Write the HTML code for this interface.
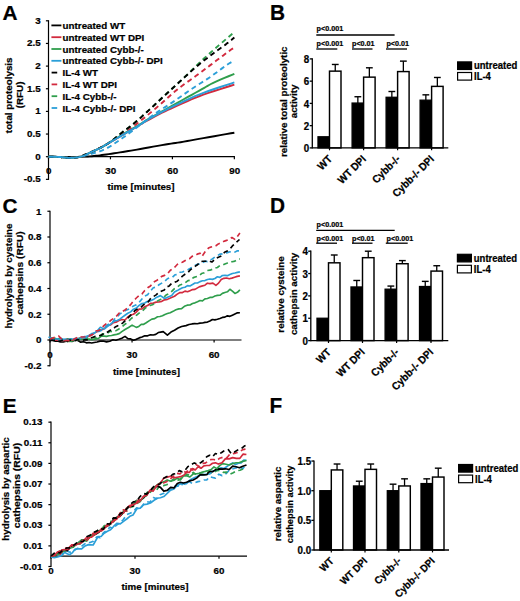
<!DOCTYPE html>
<html><head><meta charset="utf-8"><style>
html,body{margin:0;padding:0;background:#fff;}
body{width:520px;height:601px;overflow:hidden;}
svg{display:block;}
text{font-family:"Liberation Sans",sans-serif;font-weight:bold;fill:#000;stroke:#000;stroke-width:0.22px;}
</style></head><body>
<svg width="520" height="601" viewBox="0 0 520 601">
<rect width="520" height="601" fill="#fff"/>
<text x="0" y="0" font-size="20.8" text-anchor="start" transform="translate(2.60 19.80) scale(1 1.0)">A</text>
<line x1="48.50" y1="20.20" x2="48.50" y2="179.95" stroke="#000" stroke-width="1.2"/>
<line x1="45.90" y1="20.80" x2="48.50" y2="20.80" stroke="#000" stroke-width="1.2"/>
<text x="0" y="0" font-size="9.8" text-anchor="end" transform="translate(40.60 23.60) scale(1 1.0)">3</text>
<line x1="45.90" y1="43.45" x2="48.50" y2="43.45" stroke="#000" stroke-width="1.2"/>
<text x="0" y="0" font-size="9.8" text-anchor="end" transform="translate(40.60 46.25) scale(1 1.0)">2.5</text>
<line x1="45.90" y1="66.10" x2="48.50" y2="66.10" stroke="#000" stroke-width="1.2"/>
<text x="0" y="0" font-size="9.8" text-anchor="end" transform="translate(40.60 68.90) scale(1 1.0)">2</text>
<line x1="45.90" y1="88.75" x2="48.50" y2="88.75" stroke="#000" stroke-width="1.2"/>
<text x="0" y="0" font-size="9.8" text-anchor="end" transform="translate(40.60 91.55) scale(1 1.0)">1.5</text>
<line x1="45.90" y1="111.40" x2="48.50" y2="111.40" stroke="#000" stroke-width="1.2"/>
<text x="0" y="0" font-size="9.8" text-anchor="end" transform="translate(40.60 114.20) scale(1 1.0)">1</text>
<line x1="45.90" y1="134.05" x2="48.50" y2="134.05" stroke="#000" stroke-width="1.2"/>
<text x="0" y="0" font-size="9.8" text-anchor="end" transform="translate(40.60 136.85) scale(1 1.0)">0.5</text>
<line x1="45.90" y1="156.70" x2="48.50" y2="156.70" stroke="#000" stroke-width="1.2"/>
<text x="0" y="0" font-size="9.8" text-anchor="end" transform="translate(40.60 159.50) scale(1 1.0)">0</text>
<line x1="45.90" y1="179.35" x2="48.50" y2="179.35" stroke="#000" stroke-width="1.2"/>
<text x="0" y="0" font-size="9.8" text-anchor="end" transform="translate(40.60 182.15) scale(1 1.0)">-0.5</text>
<line x1="48.50" y1="156.70" x2="234.95" y2="156.70" stroke="#000" stroke-width="1.2"/>
<line x1="48.50" y1="156.70" x2="48.50" y2="159.30" stroke="#000" stroke-width="1.2"/>
<text x="0" y="0" font-size="9.8" text-anchor="middle" transform="translate(48.80 174.20) scale(1 1.0)">0</text>
<line x1="110.45" y1="156.70" x2="110.45" y2="159.30" stroke="#000" stroke-width="1.2"/>
<text x="0" y="0" font-size="9.8" text-anchor="middle" transform="translate(110.75 174.20) scale(1 1.0)">30</text>
<line x1="172.40" y1="156.70" x2="172.40" y2="159.30" stroke="#000" stroke-width="1.2"/>
<text x="0" y="0" font-size="9.8" text-anchor="middle" transform="translate(172.70 174.20) scale(1 1.0)">60</text>
<line x1="234.35" y1="156.70" x2="234.35" y2="159.30" stroke="#000" stroke-width="1.2"/>
<text x="0" y="0" font-size="9.8" text-anchor="middle" transform="translate(234.65 174.20) scale(1 1.0)">90</text>
<text x="0" y="0" font-size="9.8" text-anchor="start" transform="translate(107.60 189.90) scale(1 1.0)">time [minutes]</text>
<text x="0" y="0" font-size="9.8" text-anchor="middle" transform="translate(12.40 95.30) rotate(-90) scale(1 1.0)">total proteolysis</text>
<text x="0" y="0" font-size="9.8" text-anchor="middle" transform="translate(22.80 94.90) rotate(-90) scale(1 1.0)">(RFU)</text>
<path d="M48.50,156.70 L50.84,156.73 L54.16,156.78 L58.05,156.83 L62.11,156.88 L65.95,156.91 L69.15,156.93 L71.69,156.92 L73.89,156.90 L75.86,156.87 L77.72,156.83 L79.57,156.77 L81.54,156.70 L83.60,156.62 L85.67,156.54 L87.73,156.45 L89.80,156.33 L91.87,156.19 L93.93,156.02 L95.95,155.82 L97.91,155.59 L99.87,155.34 L101.88,155.06 L104.02,154.76 L106.32,154.44 L108.82,154.08 L111.48,153.69 L114.26,153.27 L117.10,152.84 L119.98,152.40 L122.84,151.94 L125.62,151.50 L128.33,151.05 L131.07,150.60 L133.94,150.11 L137.01,149.59 L140.39,149.00 L144.27,148.31 L148.60,147.52 L153.14,146.69 L157.65,145.87 L161.88,145.11 L165.59,144.47 L168.60,143.98 L171.08,143.61 L173.28,143.31 L175.44,143.01 L177.82,142.66 L180.66,142.20 L183.91,141.65 L187.36,141.03 L191.02,140.36 L194.91,139.65 L199.02,138.91 L203.38,138.13 L208.42,137.24 L214.24,136.21 L220.28,135.15 L226.01,134.15 L230.88,133.30 L234.35,132.69" fill="none" stroke="#000" stroke-width="1.9" stroke-linejoin="round"/>
<path d="M48.50,156.70 L49.62,156.72 L51.18,156.73 L53.02,156.76 L55.00,156.79 L56.98,156.85 L58.83,156.93 L60.56,157.06 L62.30,157.24 L64.04,157.44 L65.77,157.62 L67.48,157.77 L69.15,157.83 L70.82,157.82 L72.51,157.77 L74.17,157.66 L75.77,157.52 L77.28,157.35 L78.65,157.15 L79.85,156.93 L80.89,156.68 L81.84,156.40 L82.74,156.09 L83.66,155.73 L84.64,155.34 L85.65,154.90 L86.64,154.42 L87.64,153.90 L88.69,153.34 L89.81,152.77 L91.04,152.17 L92.43,151.54 L93.98,150.86 L95.59,150.16 L97.21,149.45 L98.75,148.76 L100.12,148.09 L101.22,147.53 L102.06,147.05 L102.82,146.59 L103.67,146.06 L104.78,145.38 L106.32,144.47 L108.33,143.29 L110.68,141.92 L113.29,140.39 L116.07,138.76 L118.94,137.09 L121.81,135.41 L124.87,133.62 L128.23,131.65 L131.68,129.63 L135.00,127.69 L137.98,125.95 L140.39,124.54 L142.03,123.57 L143.03,122.96 L143.68,122.56 L144.29,122.19 L145.16,121.70 L146.59,120.91 L148.60,119.82 L150.95,118.55 L153.56,117.15 L156.34,115.68 L159.21,114.20 L162.07,112.76 L164.95,111.36 L167.89,109.96 L170.92,108.54 L174.04,107.10 L177.29,105.64 L180.66,104.15 L184.11,102.62 L187.62,101.06 L191.24,99.48 L195.04,97.88 L199.06,96.26 L203.38,94.64 L208.42,92.89 L214.24,90.98 L220.28,89.06 L226.01,87.27 L230.88,85.76 L234.35,84.67" fill="none" stroke="#d22a3e" stroke-width="1.9" stroke-linejoin="round"/>
<path d="M48.50,156.70 L49.62,156.72 L51.18,156.73 L53.02,156.76 L55.00,156.79 L56.98,156.85 L58.83,156.93 L60.56,157.06 L62.30,157.24 L64.04,157.44 L65.77,157.62 L67.48,157.77 L69.15,157.83 L70.82,157.82 L72.51,157.77 L74.17,157.66 L75.77,157.52 L77.28,157.35 L78.65,157.15 L79.85,156.93 L80.89,156.68 L81.84,156.40 L82.74,156.09 L83.66,155.73 L84.64,155.34 L85.65,154.90 L86.64,154.42 L87.64,153.90 L88.69,153.34 L89.81,152.77 L91.04,152.17 L92.43,151.54 L93.98,150.86 L95.59,150.16 L97.21,149.45 L98.75,148.76 L100.12,148.09 L101.22,147.53 L102.06,147.07 L102.82,146.62 L103.67,146.10 L104.78,145.41 L106.32,144.47 L108.33,143.24 L110.68,141.78 L113.29,140.17 L116.07,138.45 L118.94,136.69 L121.81,134.96 L124.87,133.14 L128.23,131.18 L131.68,129.18 L135.00,127.25 L137.98,125.52 L140.39,124.08 L142.03,123.06 L143.03,122.39 L143.68,121.90 L144.29,121.45 L145.16,120.87 L146.59,120.01 L148.60,118.86 L150.95,117.54 L153.56,116.10 L156.34,114.57 L159.21,112.99 L162.07,111.40 L164.96,109.78 L167.94,108.11 L171.01,106.39 L174.15,104.62 L177.37,102.82 L180.66,100.98 L184.16,99.03 L187.92,96.95 L191.75,94.84 L195.47,92.78 L198.93,90.87 L201.93,89.20 L204.28,87.86 L206.09,86.79 L207.62,85.86 L209.15,84.98 L210.95,84.01 L213.29,82.86 L216.48,81.40 L220.37,79.71 L224.53,77.93 L228.53,76.25 L231.95,74.82 L234.35,73.80" fill="none" stroke="#2f9e4c" stroke-width="1.9" stroke-linejoin="round"/>
<path d="M48.50,156.70 L49.62,156.72 L51.18,156.73 L53.02,156.76 L55.00,156.79 L56.98,156.85 L58.83,156.93 L60.56,157.06 L62.30,157.24 L64.04,157.44 L65.77,157.62 L67.48,157.77 L69.15,157.83 L70.81,157.82 L72.47,157.77 L74.11,157.66 L75.70,157.52 L77.22,157.35 L78.65,157.15 L79.95,156.92 L81.13,156.65 L82.24,156.35 L83.33,156.02 L84.46,155.68 L85.67,155.34 L86.93,155.02 L88.18,154.70 L89.46,154.38 L90.82,154.02 L92.30,153.59 L93.93,153.08 L95.72,152.51 L97.64,151.94 L99.67,151.29 L101.81,150.54 L104.03,149.64 L106.32,148.55 L108.76,147.19 L111.37,145.59 L114.06,143.85 L116.76,142.04 L119.37,140.25 L121.81,138.58 L123.99,137.07 L125.98,135.66 L127.87,134.28 L129.80,132.84 L131.87,131.28 L134.20,129.52 L136.79,127.52 L139.55,125.33 L142.46,123.01 L145.48,120.63 L148.59,118.25 L151.75,115.93 L155.02,113.66 L158.44,111.40 L161.95,109.13 L165.48,106.87 L168.98,104.61 L172.40,102.34 L175.75,100.05 L179.09,97.73 L182.40,95.40 L185.67,93.11 L188.88,90.88 L192.02,88.75 L195.06,86.75 L198.02,84.86 L200.92,83.03 L203.80,81.22 L206.67,79.36 L209.57,77.42 L212.61,75.29 L215.80,72.98 L218.99,70.63 L222.04,68.38 L224.79,66.37 L227.12,64.74 L229.01,63.52 L230.56,62.59 L231.83,61.91 L232.86,61.40 L233.68,61.01 L234.35,60.66" fill="none" stroke="#2b9fd8" stroke-width="1.9" stroke-linejoin="round" stroke-dasharray="5,3.6"/>
<path d="M48.50,156.70 L49.62,156.72 L51.18,156.73 L53.02,156.76 L55.00,156.79 L56.98,156.85 L58.83,156.93 L60.56,157.06 L62.30,157.24 L64.04,157.44 L65.77,157.62 L67.48,157.77 L69.15,157.83 L70.81,157.83 L72.47,157.80 L74.11,157.72 L75.70,157.59 L77.22,157.40 L78.65,157.15 L79.95,156.83 L81.13,156.43 L82.24,155.98 L83.33,155.48 L84.46,154.96 L85.67,154.44 L86.91,153.93 L88.12,153.43 L89.36,152.91 L90.70,152.32 L92.20,151.64 L93.93,150.81 L95.94,149.83 L98.19,148.71 L100.60,147.50 L103.09,146.21 L105.58,144.89 L107.97,143.56 L110.23,142.27 L112.42,141.00 L114.61,139.68 L116.85,138.28 L119.23,136.72 L121.81,134.96 L124.63,132.95 L127.65,130.73 L130.80,128.36 L134.02,125.90 L137.24,123.40 L140.39,120.91 L143.48,118.44 L146.56,115.93 L149.65,113.38 L152.74,110.80 L155.84,108.17 L158.98,105.51 L162.16,102.75 L165.39,99.87 L168.64,96.96 L171.88,94.09 L175.07,91.32 L178.18,88.75 L181.20,86.41 L184.16,84.24 L187.06,82.18 L189.94,80.18 L192.83,78.16 L195.73,76.07 L198.66,73.90 L201.59,71.72 L204.51,69.53 L207.44,67.32 L210.36,65.12 L213.29,62.93 L216.37,60.61 L219.66,58.13 L222.94,55.65 L226.03,53.33 L228.73,51.33 L230.84,49.79 L232.28,48.81 L233.18,48.28 L233.69,48.06 L233.96,48.03 L234.13,48.05 L234.35,47.98" fill="none" stroke="#d22a3e" stroke-width="1.9" stroke-linejoin="round" stroke-dasharray="5,3.6"/>
<path d="M48.50,156.70 L49.62,156.72 L51.18,156.73 L53.02,156.76 L55.00,156.79 L56.98,156.85 L58.83,156.93 L60.56,157.06 L62.30,157.24 L64.04,157.44 L65.77,157.62 L67.48,157.77 L69.15,157.83 L70.81,157.83 L72.47,157.80 L74.11,157.72 L75.70,157.59 L77.22,157.40 L78.65,157.15 L79.95,156.83 L81.13,156.43 L82.24,155.98 L83.33,155.48 L84.46,154.96 L85.67,154.44 L86.91,153.93 L88.12,153.43 L89.36,152.91 L90.70,152.32 L92.20,151.64 L93.93,150.81 L95.94,149.85 L98.19,148.80 L100.60,147.64 L103.09,146.38 L105.58,145.02 L107.97,143.56 L110.31,141.94 L112.65,140.16 L114.99,138.27 L117.31,136.35 L119.59,134.47 L121.81,132.69 L123.96,131.04 L126.04,129.47 L128.09,127.93 L130.12,126.40 L132.15,124.83 L134.20,123.18 L136.20,121.51 L138.14,119.86 L140.07,118.17 L142.08,116.38 L144.22,114.45 L146.59,112.31 L149.21,109.90 L152.05,107.27 L155.03,104.49 L158.08,101.64 L161.14,98.78 L164.14,96.00 L167.10,93.27 L170.10,90.55 L173.10,87.82 L176.08,85.09 L179.02,82.38 L181.90,79.69 L184.69,77.02 L187.40,74.37 L190.07,71.73 L192.74,69.10 L195.44,66.47 L198.21,63.84 L201.05,61.19 L203.93,58.55 L206.85,55.91 L209.79,53.27 L212.77,50.62 L215.76,47.98 L219.02,45.15 L222.57,42.11 L226.15,39.06 L229.49,36.24 L232.32,33.85 L234.35,32.12" fill="none" stroke="#2f9e4c" stroke-width="1.9" stroke-linejoin="round" stroke-dasharray="5,3.6"/>
<path d="M48.50,156.70 L49.62,156.72 L51.18,156.73 L53.02,156.76 L55.00,156.79 L56.98,156.85 L58.83,156.93 L60.56,157.06 L62.30,157.24 L64.04,157.44 L65.77,157.62 L67.48,157.77 L69.15,157.83 L70.81,157.83 L72.47,157.80 L74.11,157.72 L75.70,157.59 L77.22,157.40 L78.65,157.15 L79.95,156.83 L81.13,156.43 L82.24,155.98 L83.33,155.48 L84.46,154.96 L85.67,154.44 L86.91,153.93 L88.12,153.43 L89.36,152.91 L90.70,152.32 L92.20,151.64 L93.93,150.81 L95.94,149.85 L98.19,148.80 L100.60,147.64 L103.09,146.38 L105.58,145.02 L107.97,143.56 L110.31,141.94 L112.65,140.16 L114.99,138.27 L117.31,136.35 L119.59,134.47 L121.81,132.69 L123.96,131.04 L126.04,129.47 L128.09,127.93 L130.12,126.40 L132.15,124.83 L134.20,123.18 L136.20,121.51 L138.14,119.86 L140.07,118.17 L142.08,116.38 L144.22,114.45 L146.59,112.31 L149.21,109.90 L152.05,107.27 L155.03,104.49 L158.08,101.64 L161.14,98.78 L164.14,96.00 L167.10,93.26 L170.10,90.49 L173.10,87.73 L176.08,84.99 L179.02,82.30 L181.90,79.69 L184.69,77.16 L187.40,74.69 L190.07,72.27 L192.74,69.89 L195.44,67.54 L198.21,65.19 L201.15,62.80 L204.25,60.36 L207.38,57.95 L210.42,55.63 L213.26,53.49 L215.76,51.60 L217.90,50.02 L219.75,48.70 L221.39,47.56 L222.91,46.50 L224.38,45.46 L225.88,44.36 L227.49,43.12 L229.14,41.81 L230.75,40.51 L232.22,39.31 L233.45,38.30 L234.35,37.56" fill="none" stroke="#000" stroke-width="1.9" stroke-linejoin="round" stroke-dasharray="5,3.6"/>
<path d="M48.50,156.70 L49.62,156.72 L51.18,156.73 L53.02,156.76 L55.00,156.79 L56.98,156.85 L58.83,156.93 L60.56,157.06 L62.30,157.24 L64.04,157.44 L65.77,157.62 L67.48,157.77 L69.15,157.83 L70.82,157.82 L72.51,157.77 L74.17,157.66 L75.77,157.52 L77.28,157.35 L78.65,157.15 L79.85,156.93 L80.89,156.68 L81.84,156.40 L82.74,156.09 L83.66,155.73 L84.64,155.34 L85.65,154.90 L86.64,154.42 L87.64,153.90 L88.69,153.34 L89.81,152.77 L91.04,152.17 L92.43,151.54 L93.98,150.86 L95.59,150.16 L97.21,149.45 L98.75,148.76 L100.12,148.09 L101.22,147.53 L102.06,147.05 L102.82,146.59 L103.67,146.06 L104.78,145.38 L106.32,144.47 L108.33,143.29 L110.68,141.92 L113.29,140.39 L116.07,138.76 L118.94,137.09 L121.81,135.41 L124.87,133.62 L128.23,131.67 L131.68,129.66 L135.00,127.72 L137.98,125.98 L140.39,124.54 L142.03,123.52 L143.03,122.84 L143.68,122.36 L144.29,121.90 L145.16,121.32 L146.59,120.46 L148.60,119.29 L150.95,117.94 L153.56,116.47 L156.34,114.92 L159.21,113.37 L162.07,111.85 L164.95,110.38 L167.89,108.90 L170.92,107.41 L174.04,105.90 L177.29,104.36 L180.66,102.79 L184.11,101.19 L187.62,99.55 L191.24,97.89 L195.04,96.22 L199.06,94.52 L203.38,92.83 L208.42,91.00 L214.24,89.00 L220.28,86.99 L226.01,85.13 L230.88,83.55 L234.35,82.41" fill="none" stroke="#2b9fd8" stroke-width="1.9" stroke-linejoin="round"/>
<line x1="51.40" y1="25.40" x2="61.40" y2="25.40" stroke="#000" stroke-width="1.8"/>
<text x="0" y="0" font-size="9.8" text-anchor="start" transform="translate(62.60 28.90) scale(1 1.0)">untreated WT</text>
<line x1="51.40" y1="37.20" x2="61.40" y2="37.20" stroke="#d22a3e" stroke-width="1.8"/>
<text x="0" y="0" font-size="9.8" text-anchor="start" transform="translate(62.60 40.70) scale(1 1.0)">untreated WT DPI</text>
<line x1="51.40" y1="49.00" x2="61.40" y2="49.00" stroke="#2f9e4c" stroke-width="1.8"/>
<text x="0" y="0" font-size="9.8" text-anchor="start" transform="translate(62.60 52.50) scale(1 1.0)">untreated Cybb-/-</text>
<line x1="51.40" y1="60.80" x2="61.40" y2="60.80" stroke="#2b9fd8" stroke-width="1.8"/>
<text x="0" y="0" font-size="9.8" text-anchor="start" transform="translate(62.60 64.30) scale(1 1.0)">untreated Cybb-/- DPI</text>
<line x1="51.60" y1="72.60" x2="57.20" y2="72.60" stroke="#000" stroke-width="1.8"/>
<text x="0" y="0" font-size="9.8" text-anchor="start" transform="translate(62.60 76.10) scale(1 1.0)">IL-4 WT</text>
<line x1="51.60" y1="84.40" x2="57.20" y2="84.40" stroke="#d22a3e" stroke-width="1.8"/>
<text x="0" y="0" font-size="9.8" text-anchor="start" transform="translate(62.60 87.90) scale(1 1.0)">IL-4 WT DPI</text>
<line x1="51.60" y1="96.20" x2="57.20" y2="96.20" stroke="#2f9e4c" stroke-width="1.8"/>
<text x="0" y="0" font-size="9.8" text-anchor="start" transform="translate(62.60 99.70) scale(1 1.0)">IL-4 Cybb-/-</text>
<line x1="51.60" y1="108.00" x2="57.20" y2="108.00" stroke="#2b9fd8" stroke-width="1.8"/>
<text x="0" y="0" font-size="9.8" text-anchor="start" transform="translate(62.60 111.50) scale(1 1.0)">IL-4 Cybb-/- DPI</text>
<text x="0" y="0" font-size="20.8" text-anchor="start" transform="translate(2.40 212.80) scale(1 1.0)">C</text>
<line x1="50.00" y1="210.65" x2="50.00" y2="366.35" stroke="#000" stroke-width="1.2"/>
<line x1="47.40" y1="211.25" x2="50.00" y2="211.25" stroke="#000" stroke-width="1.2"/>
<text x="0" y="0" font-size="9.8" text-anchor="end" transform="translate(41.50 214.55) scale(1 1.0)">1</text>
<line x1="47.40" y1="237.00" x2="50.00" y2="237.00" stroke="#000" stroke-width="1.2"/>
<text x="0" y="0" font-size="9.8" text-anchor="end" transform="translate(41.50 240.30) scale(1 1.0)">0.8</text>
<line x1="47.40" y1="262.75" x2="50.00" y2="262.75" stroke="#000" stroke-width="1.2"/>
<text x="0" y="0" font-size="9.8" text-anchor="end" transform="translate(41.50 266.05) scale(1 1.0)">0.6</text>
<line x1="47.40" y1="288.50" x2="50.00" y2="288.50" stroke="#000" stroke-width="1.2"/>
<text x="0" y="0" font-size="9.8" text-anchor="end" transform="translate(41.50 291.80) scale(1 1.0)">0.4</text>
<line x1="47.40" y1="314.25" x2="50.00" y2="314.25" stroke="#000" stroke-width="1.2"/>
<text x="0" y="0" font-size="9.8" text-anchor="end" transform="translate(41.50 317.55) scale(1 1.0)">0.2</text>
<line x1="47.40" y1="340.00" x2="50.00" y2="340.00" stroke="#000" stroke-width="1.2"/>
<text x="0" y="0" font-size="9.8" text-anchor="end" transform="translate(41.50 343.30) scale(1 1.0)">0</text>
<line x1="47.40" y1="365.75" x2="50.00" y2="365.75" stroke="#000" stroke-width="1.2"/>
<text x="0" y="0" font-size="9.8" text-anchor="end" transform="translate(41.50 369.05) scale(1 1.0)">-0.2</text>
<line x1="50.00" y1="340.00" x2="241.50" y2="340.00" stroke="#000" stroke-width="1.2"/>
<line x1="50.00" y1="340.00" x2="50.00" y2="342.60" stroke="#000" stroke-width="1.2"/>
<text x="0" y="0" font-size="9.8" text-anchor="middle" transform="translate(50.00 357.80) scale(1 1.0)">0</text>
<line x1="132.05" y1="340.00" x2="132.05" y2="342.60" stroke="#000" stroke-width="1.2"/>
<text x="0" y="0" font-size="9.8" text-anchor="middle" transform="translate(132.05 357.80) scale(1 1.0)">30</text>
<line x1="214.10" y1="340.00" x2="214.10" y2="342.60" stroke="#000" stroke-width="1.2"/>
<text x="0" y="0" font-size="9.8" text-anchor="middle" transform="translate(214.10 357.80) scale(1 1.0)">60</text>
<text x="0" y="0" font-size="9.8" text-anchor="start" transform="translate(113.00 374.60) scale(1 1.0)">time [minutes]</text>
<text x="0" y="0" font-size="9.8" text-anchor="middle" transform="translate(11.85 276.00) rotate(-90) scale(1 1.0)">hydrolysis by cysteine</text>
<text x="0" y="0" font-size="9.8" text-anchor="middle" transform="translate(22.60 273.10) rotate(-90) scale(1 1.0)" textLength="83.5" lengthAdjust="spacingAndGlyphs">cathepsins (RFU)</text>
<path d="M50.00,340.50 L52.67,340.41 L55.33,341.24 L58.00,341.29 L60.67,341.83 L63.33,342.03 L66.00,341.30 L69.00,340.72 L72.00,341.54 L75.00,340.11 L77.88,340.52 L80.75,342.19 L83.62,341.80 L86.50,342.84 L89.07,342.50 L91.63,342.99 L94.20,342.44 L97.10,341.97 L100.00,341.09 L103.25,341.04 L106.50,341.89 L109.75,341.27 L113.00,339.80 L115.93,340.25 L118.87,339.31 L121.80,338.18 L125.00,336.35 L127.83,338.62 L130.67,338.92 L133.50,340.25 L136.33,339.34 L139.17,337.91 L142.00,337.07 L144.82,335.71 L147.65,335.83 L150.48,334.74 L153.30,335.00 L155.78,334.36 L158.25,332.56 L160.72,332.07 L163.20,331.65 L167.40,335.04 L170.95,332.05 L174.50,330.20 L178.05,327.93 L181.60,326.51 L186.00,325.62 L189.00,324.56 L192.00,323.94 L194.67,323.60 L197.33,323.78 L200.00,323.09 L202.47,322.99 L204.95,322.37 L207.43,322.09 L209.90,321.07 L212.40,319.51 L214.90,319.88 L217.40,319.29 L219.90,318.45 L222.40,317.41 L224.90,317.14 L227.40,315.84 L229.90,316.33 L232.40,315.17 L234.90,313.96 L237.40,312.85 L239.90,312.80" fill="none" stroke="#000" stroke-width="1.65" stroke-linejoin="round"/>
<path d="M50.00,338.00 L52.50,338.08 L55.00,338.37 L57.50,339.33 L60.00,339.45 L62.50,339.56 L65.00,340.34 L67.50,341.42 L70.00,341.48 L72.50,341.05 L75.00,339.81 L77.50,339.93 L80.00,339.14 L83.25,339.23 L86.50,339.37 L89.25,339.04 L92.00,339.68 L95.40,338.88 L98.80,338.19 L101.80,335.88 L106.50,336.41 L109.00,335.80 L111.50,335.50 L114.00,334.87 L116.60,334.33 L119.20,333.64 L121.80,331.64 L125.00,329.47 L128.55,327.47 L132.10,325.11 L136.30,327.38 L138.78,326.43 L141.25,324.39 L143.72,324.32 L146.20,322.78 L149.02,320.88 L151.85,319.08 L154.68,318.65 L157.50,316.72 L159.97,316.49 L162.45,315.71 L164.93,314.44 L167.40,313.56 L170.24,312.74 L173.08,311.35 L175.92,309.80 L178.76,308.91 L181.60,308.60 L184.40,306.27 L187.20,305.17 L190.00,305.00 L192.50,303.45 L195.00,302.86 L197.50,301.75 L200.00,300.55 L202.47,300.87 L204.95,298.86 L207.43,298.49 L209.90,297.42 L212.40,297.36 L214.90,296.04 L217.40,295.42 L219.90,295.30 L222.40,293.36 L224.90,292.49 L227.40,291.80 L229.90,289.26 L232.40,291.20 L234.90,293.47 L237.40,292.32 L239.90,289.90" fill="none" stroke="#2f9e4c" stroke-width="1.65" stroke-linejoin="round"/>
<path d="M50.00,339.00 L52.50,339.45 L55.00,339.89 L57.50,340.22 L60.00,340.71 L62.50,340.26 L65.00,340.43 L67.50,338.87 L70.00,339.44 L72.50,339.96 L75.00,339.24 L77.50,339.39 L80.00,337.88 L82.67,337.78 L85.33,336.76 L88.00,336.57 L91.00,335.37 L94.00,333.22 L97.00,331.80 L100.00,330.15 L102.67,329.50 L105.33,327.59 L108.00,324.96 L110.67,324.81 L113.33,322.59 L116.00,322.19 L119.00,320.54 L122.00,319.47 L125.00,319.99 L127.82,316.96 L130.64,314.98 L133.46,314.23 L136.28,312.08 L139.10,309.16 L141.94,308.82 L144.78,306.72 L147.62,305.52 L150.46,303.35 L153.30,303.11 L156.12,302.15 L158.94,302.03 L161.76,301.35 L164.58,299.84 L167.40,299.38 L170.95,297.67 L174.50,296.23 L177.25,294.15 L180.00,292.58 L182.50,292.56 L185.00,291.11 L187.50,291.68 L190.00,290.64 L192.50,289.60 L195.00,289.41 L197.50,287.87 L200.00,286.61 L202.47,285.87 L204.95,285.23 L207.43,283.19 L209.90,283.66 L212.90,283.14 L215.90,285.30 L218.57,283.12 L221.23,279.46 L223.90,278.36 L226.57,278.02 L229.23,278.69 L231.90,278.11 L234.57,277.17 L237.23,276.39 L239.90,275.90" fill="none" stroke="#d22a3e" stroke-width="1.65" stroke-linejoin="round"/>
<path d="M48.50,337.00 L51.00,338.14 L53.50,338.85 L56.00,338.98 L58.50,338.67 L61.00,338.30 L63.50,339.41 L66.00,339.15 L68.40,339.48 L70.80,338.72 L73.20,339.21 L75.60,338.28 L78.00,338.98 L80.83,338.10 L83.67,336.83 L86.50,336.26 L89.07,335.42 L91.63,333.58 L94.20,333.09 L97.25,330.84 L100.30,327.32 L104.50,328.99 L107.00,326.85 L109.50,325.15 L112.07,322.80 L114.63,320.88 L117.20,320.48 L119.80,319.12 L122.40,317.18 L125.00,315.25 L127.82,313.30 L130.64,311.88 L133.46,309.21 L136.28,308.14 L139.10,305.44 L141.94,303.54 L144.78,302.99 L147.62,301.24 L150.46,300.87 L153.30,299.56 L156.85,297.17 L160.40,295.63 L164.60,298.52 L168.15,296.94 L171.70,295.46 L174.47,292.01 L177.23,290.61 L180.00,289.06 L182.50,287.71 L185.00,287.29 L187.50,285.62 L190.00,286.01 L192.50,284.57 L195.00,283.04 L197.50,283.04 L200.00,281.60 L202.49,280.79 L204.97,280.62 L207.46,279.45 L209.95,278.94 L212.44,279.36 L214.93,278.47 L217.41,276.75 L219.90,277.34 L222.40,275.50 L224.90,275.38 L227.40,275.67 L229.90,274.59 L232.40,273.46 L234.90,272.95 L237.40,272.35 L239.90,271.90" fill="none" stroke="#2b9fd8" stroke-width="1.65" stroke-linejoin="round"/>
<path d="M50.00,339.00 L52.40,338.92 L54.80,338.84 L57.20,339.84 L59.60,339.12 L62.00,340.06 L64.60,339.69 L67.20,339.09 L69.80,339.71 L72.40,338.86 L75.00,339.39 L77.60,338.61 L80.20,338.45 L82.80,338.78 L85.40,339.22 L88.00,337.90 L90.67,337.56 L93.33,337.70 L96.00,337.72 L99.50,335.62 L103.00,333.83 L106.50,333.76 L110.00,331.27 L113.00,332.07 L116.00,330.66 L118.50,329.18 L121.00,327.89 L124.50,324.69 L128.00,322.01 L131.50,318.24 L135.00,316.13 L137.50,314.47 L140.00,312.30 L142.50,310.83 L145.00,308.30 L147.50,306.80 L150.00,305.53 L152.50,304.79 L155.00,302.88 L158.00,300.70 L161.00,299.14 L164.00,296.93 L166.57,294.71 L169.13,293.54 L171.70,291.42 L174.47,288.62 L177.23,287.09 L180.00,284.94 L182.67,284.17 L185.33,282.60 L188.00,280.56 L190.67,280.33 L193.33,277.62 L196.00,276.77 L198.78,275.91 L201.56,273.54 L204.34,272.68 L207.12,270.56 L209.90,270.17 L212.40,269.32 L214.90,268.02 L217.40,267.50 L219.90,265.60 L222.40,265.21 L224.90,264.05 L227.40,263.03 L229.90,261.83 L232.40,261.69 L234.90,261.11 L237.40,259.61 L239.90,258.90" fill="none" stroke="#2f9e4c" stroke-width="1.65" stroke-linejoin="round" stroke-dasharray="5,3.6"/>
<path d="M50.00,339.50 L52.40,339.16 L54.80,340.44 L57.20,339.20 L59.60,340.23 L62.00,339.34 L64.60,339.50 L67.20,340.60 L69.80,339.24 L72.40,339.83 L75.00,339.43 L77.60,338.93 L80.20,338.49 L82.80,337.51 L85.40,338.03 L88.00,336.34 L90.50,335.32 L93.00,333.73 L95.50,332.88 L98.00,331.85 L100.67,330.81 L103.33,328.14 L106.00,325.88 L109.30,323.61 L112.60,322.29 L115.07,318.30 L117.53,316.69 L120.00,313.80 L122.67,312.66 L125.33,310.54 L128.00,309.51 L130.78,307.50 L133.55,306.04 L136.32,304.74 L139.10,302.53 L141.94,299.01 L144.78,296.06 L147.62,294.65 L150.46,291.10 L153.30,287.81 L156.12,287.17 L158.94,284.75 L161.76,283.15 L164.58,281.55 L167.40,278.76 L169.92,277.63 L172.44,277.22 L174.96,274.80 L177.48,274.56 L180.00,272.26 L182.50,271.95 L185.00,270.72 L187.50,269.87 L190.00,268.45 L192.50,266.91 L195.00,265.42 L197.50,264.34 L200.00,263.95 L202.47,262.92 L204.95,261.21 L207.43,261.55 L209.90,259.91 L212.40,258.97 L214.90,256.95 L217.40,255.74 L219.90,254.12 L222.40,253.92 L224.90,253.08 L227.40,252.60 L229.90,251.80 L232.40,252.28 L234.90,252.13 L237.40,250.73 L239.90,251.00" fill="none" stroke="#2b9fd8" stroke-width="1.65" stroke-linejoin="round" stroke-dasharray="5,3.6"/>
<path d="M50.00,340.00 L52.40,340.14 L54.80,340.20 L57.20,340.02 L59.60,341.39 L62.00,340.21 L64.60,340.90 L67.20,341.44 L69.80,340.03 L72.40,340.69 L75.00,340.69 L77.60,339.57 L80.20,339.91 L82.80,340.23 L85.40,339.62 L88.00,339.86 L90.50,338.08 L93.00,337.33 L95.50,336.25 L98.00,336.01 L100.83,335.44 L103.67,333.68 L106.50,332.74 L109.55,330.56 L112.60,329.59 L115.17,327.03 L117.73,325.80 L120.30,324.88 L122.87,322.93 L125.43,320.41 L128.00,317.84 L131.50,314.38 L135.00,310.54 L137.80,308.75 L140.60,307.70 L143.40,304.82 L145.88,303.79 L148.35,301.66 L150.83,298.21 L153.30,296.61 L156.13,294.89 L158.97,292.24 L161.80,290.98 L164.28,289.98 L166.75,286.93 L169.22,285.93 L171.70,283.39 L174.47,282.43 L177.23,281.23 L180.00,278.42 L182.50,276.11 L185.00,274.23 L187.50,272.96 L190.00,270.13 L192.50,267.99 L195.00,266.39 L197.50,264.82 L200.00,261.77 L203.00,261.24 L206.00,261.12 L208.95,260.75 L211.90,262.03 L215.90,258.38 L218.90,257.07 L221.90,255.63 L224.57,252.22 L227.23,251.05 L229.90,249.17 L232.40,245.94 L234.90,243.63 L239.50,239.50" fill="none" stroke="#000" stroke-width="1.65" stroke-linejoin="round" stroke-dasharray="5,3.6"/>
<path d="M50.00,339.00 L54.00,337.61 L58.80,336.09 L63.40,340.92 L66.70,340.18 L70.00,341.00 L72.93,339.82 L75.87,338.35 L78.80,336.36 L81.90,336.98 L85.00,336.72 L88.00,335.40 L91.00,335.32 L93.60,333.86 L96.20,330.80 L98.80,330.58 L101.37,328.10 L103.93,325.68 L106.50,323.45 L109.07,322.05 L111.63,319.66 L114.20,318.00 L116.73,315.89 L119.27,312.98 L121.80,311.93 L124.90,309.97 L128.00,307.65 L130.78,304.38 L133.55,300.77 L136.32,298.01 L139.10,295.51 L141.94,294.11 L144.78,290.38 L147.62,287.79 L150.46,285.94 L153.30,282.30 L156.12,280.84 L158.94,278.82 L161.76,276.38 L164.58,275.38 L167.40,273.95 L169.92,270.75 L172.44,268.76 L174.96,266.96 L177.48,264.26 L180.00,262.89 L182.40,262.21 L184.80,260.75 L187.20,259.35 L189.60,258.67 L192.00,256.34 L194.67,255.71 L197.33,254.10 L200.00,253.16 L202.00,256.38 L206.00,250.44 L208.47,248.10 L210.95,246.97 L213.43,246.74 L215.90,245.72 L218.40,243.89 L220.90,242.86 L223.40,241.59 L225.90,240.64 L228.90,239.69 L231.90,237.49 L234.90,239.39 L237.40,236.43 L239.90,233.00" fill="none" stroke="#d22a3e" stroke-width="1.65" stroke-linejoin="round" stroke-dasharray="5,3.6"/>
<text x="0" y="0" font-size="20.8" text-anchor="start" transform="translate(2.80 412.80) scale(1 1.0)">E</text>
<line x1="51.00" y1="421.57" x2="51.00" y2="567.11" stroke="#000" stroke-width="1.2"/>
<line x1="48.40" y1="422.17" x2="51.00" y2="422.17" stroke="#000" stroke-width="1.2"/>
<text x="0" y="0" font-size="9.8" text-anchor="end" transform="translate(42.40 425.37) scale(1 1.0)">0.13</text>
<line x1="48.40" y1="442.79" x2="51.00" y2="442.79" stroke="#000" stroke-width="1.2"/>
<text x="0" y="0" font-size="9.8" text-anchor="end" transform="translate(42.40 445.99) scale(1 1.0)">0.11</text>
<line x1="48.40" y1="463.41" x2="51.00" y2="463.41" stroke="#000" stroke-width="1.2"/>
<text x="0" y="0" font-size="9.8" text-anchor="end" transform="translate(42.40 466.61) scale(1 1.0)">0.09</text>
<line x1="48.40" y1="484.03" x2="51.00" y2="484.03" stroke="#000" stroke-width="1.2"/>
<text x="0" y="0" font-size="9.8" text-anchor="end" transform="translate(42.40 487.23) scale(1 1.0)">0.07</text>
<line x1="48.40" y1="504.65" x2="51.00" y2="504.65" stroke="#000" stroke-width="1.2"/>
<text x="0" y="0" font-size="9.8" text-anchor="end" transform="translate(42.40 507.85) scale(1 1.0)">0.05</text>
<line x1="48.40" y1="525.27" x2="51.00" y2="525.27" stroke="#000" stroke-width="1.2"/>
<text x="0" y="0" font-size="9.8" text-anchor="end" transform="translate(42.40 528.47) scale(1 1.0)">0.03</text>
<line x1="48.40" y1="545.89" x2="51.00" y2="545.89" stroke="#000" stroke-width="1.2"/>
<text x="0" y="0" font-size="9.8" text-anchor="end" transform="translate(42.40 549.09) scale(1 1.0)">0.01</text>
<line x1="48.40" y1="566.51" x2="51.00" y2="566.51" stroke="#000" stroke-width="1.2"/>
<text x="0" y="0" font-size="9.8" text-anchor="end" transform="translate(42.40 569.71) scale(1 1.0)">-0.01</text>
<line x1="51.00" y1="556.20" x2="247.00" y2="556.20" stroke="#000" stroke-width="1.2"/>
<line x1="51.00" y1="556.20" x2="51.00" y2="558.80" stroke="#000" stroke-width="1.2"/>
<text x="0" y="0" font-size="9.8" text-anchor="middle" transform="translate(51.00 573.80) scale(1 1.0)">0</text>
<line x1="135.00" y1="556.20" x2="135.00" y2="558.80" stroke="#000" stroke-width="1.2"/>
<text x="0" y="0" font-size="9.8" text-anchor="middle" transform="translate(135.00 573.80) scale(1 1.0)">30</text>
<line x1="219.00" y1="556.20" x2="219.00" y2="558.80" stroke="#000" stroke-width="1.2"/>
<text x="0" y="0" font-size="9.8" text-anchor="middle" transform="translate(219.00 573.80) scale(1 1.0)">60</text>
<text x="0" y="0" font-size="9.8" text-anchor="start" transform="translate(121.60 590.00) scale(1 1.0)">time [minutes]</text>
<text x="0" y="0" font-size="9.8" text-anchor="middle" transform="translate(9.30 489.00) rotate(-90) scale(1 1.0)" textLength="103.5" lengthAdjust="spacingAndGlyphs">hydrolysis by aspartic</text>
<text x="0" y="0" font-size="9.8" text-anchor="middle" transform="translate(20.00 485.60) rotate(-90) scale(1 1.0)" textLength="85.5" lengthAdjust="spacingAndGlyphs">cathepsins (RFU)</text>
<path d="M51.00,556.50 L54.00,554.33 L57.00,555.59 L60.00,554.54 L63.33,552.92 L66.67,550.86 L70.00,552.17 L73.33,551.06 L76.67,548.72 L80.00,547.52 L83.33,544.94 L86.67,542.51 L90.00,542.48 L93.33,541.17 L96.67,536.94 L100.00,537.68 L103.33,532.93 L106.67,530.43 L110.00,527.17 L113.33,528.49 L116.67,524.95 L120.00,523.00 L123.33,519.46 L126.67,514.64 L130.00,513.32 L133.33,511.66 L136.67,507.80 L140.00,508.81 L143.33,504.47 L146.67,501.62 L150.00,502.27 L153.33,497.50 L156.67,498.71 L160.00,494.81 L163.33,493.54 L166.67,491.04 L170.00,489.94 L173.33,487.25 L176.67,485.15 L180.00,486.96 L183.00,483.44 L186.00,484.62 L189.00,481.33 L192.00,483.38 L194.97,482.63 L197.95,481.62 L200.93,481.20 L203.90,480.02 L206.78,479.89 L209.65,476.74 L212.53,477.43 L215.40,478.11 L218.77,474.17 L222.13,475.63 L225.50,474.05 L228.87,470.71 L232.23,469.09 L235.60,468.01 L239.20,466.99 L242.80,468.68 L246.50,464.00" fill="none" stroke="#2b9fd8" stroke-width="1.65" stroke-linejoin="round" stroke-dasharray="5,3.6"/>
<path d="M51.00,556.00 L54.00,556.83 L57.00,552.56 L60.00,551.09 L63.33,553.49 L66.67,548.74 L70.00,546.98 L73.33,547.11 L76.67,543.88 L80.00,544.06 L83.33,539.76 L86.67,541.00 L90.00,536.78 L93.33,535.57 L96.67,534.56 L100.00,531.24 L103.33,529.70 L106.67,526.33 L110.00,521.19 L113.33,521.86 L116.67,518.02 L120.00,514.24 L123.33,511.09 L126.67,511.07 L130.00,507.33 L133.33,506.42 L136.67,503.43 L140.00,501.84 L143.33,497.60 L146.67,495.46 L150.00,492.45 L153.33,489.03 L156.67,489.83 L160.00,485.25 L163.33,485.62 L166.67,484.82 L170.00,482.10 L173.33,479.07 L176.67,480.80 L180.00,479.17 L183.33,476.07 L186.67,474.36 L190.00,475.13 L193.33,472.46 L196.67,475.37 L200.00,473.03 L203.33,472.74 L206.67,471.97 L210.00,472.64 L213.33,473.33 L216.67,470.56 L220.00,470.50 L223.27,472.33 L226.53,472.19 L229.80,474.38 L233.20,472.71 L236.60,470.80 L240.00,470.29 L243.20,469.01 L246.40,468.20" fill="none" stroke="#2f9e4c" stroke-width="1.65" stroke-linejoin="round" stroke-dasharray="5,3.6"/>
<path d="M51.00,557.00 L54.30,557.73 L57.60,557.01 L62.00,555.41 L64.60,552.25 L67.20,553.83 L69.50,554.73 L72.20,552.91 L74.90,549.27 L78.30,548.74 L81.70,548.90 L85.05,545.95 L88.40,544.64 L93.20,544.99 L98.00,536.51 L101.10,536.51 L104.20,533.22 L107.40,531.28 L110.60,529.81 L113.80,526.19 L117.03,523.21 L120.27,523.92 L123.50,521.32 L126.67,519.00 L129.83,516.30 L133.00,514.99 L136.90,508.71 L140.25,508.14 L143.60,504.73 L147.00,504.11 L150.40,503.08 L153.75,500.48 L157.10,498.31 L160.45,497.71 L163.80,496.58 L167.20,493.43 L170.60,490.21 L173.95,488.86 L177.30,485.16 L180.37,483.91 L183.43,483.20 L186.50,483.74 L189.87,480.07 L193.23,478.34 L196.60,476.85 L199.97,475.21 L203.33,474.63 L206.70,474.26 L209.60,474.05 L212.50,471.19 L215.40,470.23 L218.30,468.84 L221.18,467.82 L224.05,468.45 L226.93,466.55 L229.80,464.43 L232.70,462.92 L235.60,464.39 L238.50,463.15 L241.13,462.88 L243.77,460.06 L246.40,460.30" fill="none" stroke="#2b9fd8" stroke-width="1.65" stroke-linejoin="round"/>
<path d="M51.00,556.00 L54.30,555.26 L57.60,554.22 L62.40,549.86 L67.20,550.79 L72.00,545.20 L76.80,544.22 L81.70,540.13 L86.50,540.23 L91.30,535.34 L96.10,534.04 L98.80,532.01 L101.50,530.06 L104.20,526.79 L107.40,525.98 L110.60,524.09 L113.80,518.62 L117.03,517.23 L120.27,515.98 L123.50,512.36 L126.67,508.97 L129.83,506.13 L133.00,506.13 L136.50,500.51 L140.00,500.44 L143.50,497.99 L147.00,492.77 L150.00,491.13 L153.00,488.80 L157.10,486.15 L160.45,487.37 L163.80,491.12 L167.20,490.38 L170.60,487.34 L173.95,487.92 L177.30,483.45 L180.37,482.28 L183.43,483.06 L186.50,482.28 L189.87,480.88 L193.23,480.04 L196.60,478.10 L200.25,474.56 L203.90,474.87 L206.78,474.80 L209.65,471.09 L212.53,471.80 L215.40,469.86 L218.77,468.85 L222.13,469.09 L225.50,468.81 L229.10,469.56 L232.70,466.17 L236.07,466.79 L239.43,467.82 L242.80,466.25 L246.50,465.00" fill="none" stroke="#000" stroke-width="1.65" stroke-linejoin="round"/>
<path d="M51.00,556.00 L54.30,554.06 L57.60,554.54 L62.40,552.24 L67.20,547.97 L72.00,547.64 L76.80,544.09 L81.70,539.95 L86.50,540.93 L91.30,535.72 L96.10,532.60 L98.80,530.93 L101.50,529.42 L104.20,525.65 L107.40,525.34 L110.60,523.53 L113.80,520.04 L117.03,518.23 L120.27,514.78 L123.50,512.67 L126.67,508.02 L129.83,506.32 L133.00,504.39 L136.50,500.57 L140.00,501.20 L143.50,497.24 L147.00,492.55 L150.00,492.05 L153.00,489.19 L157.10,484.88 L160.45,482.78 L163.80,481.86 L167.20,479.95 L170.60,481.23 L173.95,480.30 L177.30,478.16 L180.37,479.95 L183.43,476.05 L186.50,475.62 L189.87,477.01 L193.23,473.93 L196.60,473.73 L199.50,473.33 L202.40,472.01 L205.30,471.34 L208.20,470.50 L211.10,469.54 L213.97,466.93 L216.85,468.59 L219.72,465.59 L222.60,463.67 L225.97,464.24 L229.33,464.97 L232.70,463.56 L236.07,462.71 L239.43,462.55 L242.80,461.39 L246.50,460.50" fill="none" stroke="#2f9e4c" stroke-width="1.65" stroke-linejoin="round"/>
<path d="M51.00,556.00 L54.30,555.39 L57.60,551.93 L62.40,549.94 L67.20,549.36 L72.00,544.70 L76.80,544.59 L81.70,542.55 L86.50,537.65 L91.30,537.26 L96.10,533.31 L98.80,531.69 L101.50,530.73 L104.20,528.75 L107.40,524.34 L110.60,523.57 L113.80,521.03 L117.03,518.86 L120.27,512.64 L123.50,513.08 L126.67,508.17 L129.83,505.50 L133.00,504.85 L136.50,503.22 L140.00,501.14 L143.50,496.26 L147.00,495.18 L150.00,490.06 L153.00,491.19 L157.10,485.26 L160.45,482.91 L163.80,478.15 L167.20,477.11 L170.60,476.23 L173.95,477.86 L177.30,477.22 L180.50,476.64 L183.70,475.26 L186.57,472.26 L189.43,472.32 L192.30,468.52 L195.20,470.00 L198.10,466.77 L201.00,468.28 L203.87,465.82 L206.73,465.51 L209.60,465.37 L212.50,463.25 L215.40,462.84 L218.30,464.06 L221.90,462.87 L225.50,458.66 L229.10,458.86 L232.70,457.63 L236.30,458.36 L239.90,458.37 L243.15,454.08 L246.40,454.50" fill="none" stroke="#d22a3e" stroke-width="1.65" stroke-linejoin="round"/>
<path d="M51.00,556.00 L54.00,555.43 L57.00,554.47 L60.00,554.33 L63.33,549.79 L66.67,547.76 L70.00,549.30 L73.33,545.50 L76.67,543.82 L80.00,543.76 L83.33,539.40 L86.67,540.47 L90.00,536.96 L93.33,533.12 L96.67,534.34 L100.00,530.79 L103.33,526.15 L106.67,526.52 L110.00,523.60 L113.33,520.79 L116.67,517.80 L120.00,516.47 L123.33,509.88 L126.67,511.06 L130.00,507.07 L133.33,503.01 L136.67,501.95 L140.00,498.35 L143.33,496.93 L146.67,494.48 L150.00,491.10 L153.33,487.06 L156.67,485.90 L160.00,483.21 L163.33,483.00 L166.67,481.72 L170.00,479.10 L173.33,476.46 L176.67,473.35 L180.00,473.83 L183.13,470.93 L186.27,472.72 L189.40,468.29 L192.77,470.04 L196.13,464.79 L199.50,466.42 L202.40,463.44 L205.30,463.10 L208.20,461.21 L211.10,459.53 L213.97,459.55 L216.83,460.56 L219.70,458.21 L223.35,457.14 L227.00,457.73 L229.87,454.11 L232.73,453.63 L235.60,453.07 L239.20,452.02 L242.80,449.58 L246.50,449.00" fill="none" stroke="#d22a3e" stroke-width="1.65" stroke-linejoin="round" stroke-dasharray="5,3.6"/>
<path d="M51.00,556.00 L54.00,553.29 L57.00,552.19 L60.00,552.89 L63.33,549.71 L66.67,548.03 L70.00,547.86 L73.33,545.67 L76.67,542.85 L80.00,541.57 L83.33,541.54 L86.67,536.86 L90.00,535.25 L93.33,532.44 L96.67,531.13 L100.00,528.38 L103.33,529.27 L106.67,523.92 L110.00,523.96 L113.33,517.85 L116.67,518.28 L120.00,514.03 L123.33,511.93 L126.67,508.98 L130.00,504.58 L133.33,501.93 L136.67,501.22 L140.00,496.53 L143.33,493.55 L146.67,494.08 L150.00,491.03 L153.50,486.79 L157.00,485.08 L160.40,483.64 L163.80,478.12 L166.90,476.50 L170.00,476.67 L173.10,474.17 L176.20,473.47 L179.30,470.63 L182.20,471.75 L185.10,470.13 L188.00,466.59 L190.90,464.81 L194.27,462.90 L197.63,464.25 L201.00,462.51 L203.87,460.18 L206.73,456.77 L209.60,455.29 L212.50,456.74 L215.40,453.49 L218.30,454.55 L221.67,452.52 L225.03,449.99 L228.40,449.69 L231.30,453.60 L234.20,452.29 L238.50,449.40 L241.40,448.65 L244.30,446.09 L246.50,445.00" fill="none" stroke="#000" stroke-width="1.65" stroke-linejoin="round" stroke-dasharray="5,3.6"/>
<text x="0" y="0" font-size="20.8" text-anchor="start" transform="translate(270.00 19.60) scale(1 1.07)">B</text>
<rect x="318.00" y="136.78" width="11.50" height="11.12" fill="#000" stroke="#000" stroke-width="1.3"/>
<rect x="352.10" y="103.07" width="11.50" height="44.83" fill="#000" stroke="#000" stroke-width="1.3"/>
<line x1="357.85" y1="103.07" x2="357.85" y2="96.73" stroke="#000" stroke-width="1.3"/>
<line x1="354.45" y1="96.73" x2="361.25" y2="96.73" stroke="#000" stroke-width="1.4"/>
<rect x="386.10" y="97.28" width="11.50" height="50.62" fill="#000" stroke="#000" stroke-width="1.3"/>
<line x1="391.85" y1="97.28" x2="391.85" y2="91.50" stroke="#000" stroke-width="1.3"/>
<line x1="388.45" y1="91.50" x2="395.25" y2="91.50" stroke="#000" stroke-width="1.4"/>
<rect x="420.10" y="100.17" width="11.50" height="47.73" fill="#000" stroke="#000" stroke-width="1.3"/>
<line x1="425.85" y1="100.17" x2="425.85" y2="94.83" stroke="#000" stroke-width="1.3"/>
<line x1="422.45" y1="94.83" x2="429.25" y2="94.83" stroke="#000" stroke-width="1.4"/>
<line x1="335.25" y1="71.14" x2="335.25" y2="64.46" stroke="#000" stroke-width="1.3"/>
<line x1="331.85" y1="64.46" x2="338.65" y2="64.46" stroke="#000" stroke-width="1.4"/>
<rect x="329.50" y="71.14" width="11.50" height="76.76" fill="#fff" stroke="#000" stroke-width="1.45"/>
<line x1="369.35" y1="77.14" x2="369.35" y2="67.80" stroke="#000" stroke-width="1.3"/>
<line x1="365.95" y1="67.80" x2="372.75" y2="67.80" stroke="#000" stroke-width="1.4"/>
<rect x="363.60" y="77.14" width="11.50" height="70.76" fill="#fff" stroke="#000" stroke-width="1.45"/>
<line x1="403.35" y1="71.58" x2="403.35" y2="61.13" stroke="#000" stroke-width="1.3"/>
<line x1="399.95" y1="61.13" x2="406.75" y2="61.13" stroke="#000" stroke-width="1.4"/>
<rect x="397.60" y="71.58" width="11.50" height="76.32" fill="#fff" stroke="#000" stroke-width="1.45"/>
<line x1="437.35" y1="86.38" x2="437.35" y2="77.48" stroke="#000" stroke-width="1.3"/>
<line x1="433.95" y1="77.48" x2="440.75" y2="77.48" stroke="#000" stroke-width="1.4"/>
<rect x="431.60" y="86.38" width="11.50" height="61.52" fill="#fff" stroke="#000" stroke-width="1.45"/>
<line x1="312.30" y1="58.30" x2="312.30" y2="148.50" stroke="#000" stroke-width="1.3"/>
<line x1="309.70" y1="147.90" x2="312.30" y2="147.90" stroke="#000" stroke-width="1.3"/>
<text x="0" y="0" font-size="9.8" text-anchor="end" transform="translate(309.30 152.00) scale(1 1.07)">0</text>
<line x1="309.70" y1="125.65" x2="312.30" y2="125.65" stroke="#000" stroke-width="1.3"/>
<text x="0" y="0" font-size="9.8" text-anchor="end" transform="translate(309.30 129.75) scale(1 1.07)">2</text>
<line x1="309.70" y1="103.40" x2="312.30" y2="103.40" stroke="#000" stroke-width="1.3"/>
<text x="0" y="0" font-size="9.8" text-anchor="end" transform="translate(309.30 107.50) scale(1 1.07)">4</text>
<line x1="309.70" y1="81.15" x2="312.30" y2="81.15" stroke="#000" stroke-width="1.3"/>
<text x="0" y="0" font-size="9.8" text-anchor="end" transform="translate(309.30 85.25) scale(1 1.07)">6</text>
<line x1="309.70" y1="58.90" x2="312.30" y2="58.90" stroke="#000" stroke-width="1.3"/>
<text x="0" y="0" font-size="9.8" text-anchor="end" transform="translate(309.30 63.00) scale(1 1.07)">8</text>
<line x1="312.30" y1="147.90" x2="448.30" y2="147.90" stroke="#000" stroke-width="1.3"/>
<line x1="329.50" y1="147.90" x2="329.50" y2="150.30" stroke="#000" stroke-width="1.2"/>
<line x1="363.60" y1="147.90" x2="363.60" y2="150.30" stroke="#000" stroke-width="1.2"/>
<line x1="397.60" y1="147.90" x2="397.60" y2="150.30" stroke="#000" stroke-width="1.2"/>
<line x1="431.60" y1="147.90" x2="431.60" y2="150.30" stroke="#000" stroke-width="1.2"/>
<text x="0" y="0" font-size="10.0" text-anchor="end" transform="translate(332.70 159.70) rotate(-45) scale(1 1.07)">WT</text>
<text x="0" y="0" font-size="10.0" text-anchor="end" transform="translate(366.80 159.70) rotate(-45) scale(1 1.07)">WT DPI</text>
<text x="0" y="0" font-size="10.0" text-anchor="end" transform="translate(400.80 159.70) rotate(-45) scale(1 1.07)">Cybb-/-</text>
<text x="0" y="0" font-size="10.0" text-anchor="end" transform="translate(434.80 159.70) rotate(-45) scale(1 1.07)">Cybb-/- DPI</text>
<text x="0" y="0" font-size="9.8" text-anchor="middle" transform="translate(286.80 101.70) rotate(-90) scale(1 1.0)">relative total proteolytic</text>
<text x="0" y="0" font-size="9.8" text-anchor="middle" transform="translate(297.00 101.40) rotate(-90) scale(1 1.0)">activity</text>
<text x="0" y="0" font-size="7.2" text-anchor="start" transform="translate(316.60 30.50) scale(1 1.07)">p&lt;0.001</text>
<line x1="316.30" y1="35.00" x2="394.60" y2="35.00" stroke="#000" stroke-width="1.3"/>
<text x="0" y="0" font-size="7.2" text-anchor="start" transform="translate(316.60 46.30) scale(1 1.07)">p&lt;0.001</text>
<line x1="316.30" y1="49.00" x2="337.30" y2="49.00" stroke="#000" stroke-width="1.3"/>
<text x="0" y="0" font-size="7.2" text-anchor="start" transform="translate(352.00 46.30) scale(1 1.07)">p&lt;0.01</text>
<line x1="352.00" y1="49.00" x2="372.50" y2="49.00" stroke="#000" stroke-width="1.3"/>
<text x="0" y="0" font-size="7.2" text-anchor="start" transform="translate(386.40 46.30) scale(1 1.07)">p&lt;0.01</text>
<line x1="386.00" y1="49.00" x2="407.00" y2="49.00" stroke="#000" stroke-width="1.3"/>
<rect x="457.60" y="61.90" width="14.00" height="7.60" fill="#000" stroke="#000" stroke-width="1.2"/>
<rect x="457.60" y="72.50" width="14.00" height="7.60" fill="#fff" stroke="#000" stroke-width="1.2"/>
<text x="0" y="0" font-size="9.5" text-anchor="start" transform="translate(474.00 69.40) scale(1 1.07)">untreated</text>
<text x="0" y="0" font-size="9.5" text-anchor="start" transform="translate(474.00 80.00) scale(1 1.07)">IL-4</text>
<text x="0" y="0" font-size="20.8" text-anchor="start" transform="translate(270.00 213.00) scale(1 1.07)">D</text>
<rect x="317.00" y="318.25" width="11.50" height="22.35" fill="#000" stroke="#000" stroke-width="1.3"/>
<rect x="351.00" y="286.96" width="11.50" height="53.64" fill="#000" stroke="#000" stroke-width="1.3"/>
<line x1="356.75" y1="286.96" x2="356.75" y2="280.48" stroke="#000" stroke-width="1.3"/>
<line x1="353.35" y1="280.48" x2="360.15" y2="280.48" stroke="#000" stroke-width="1.4"/>
<rect x="385.10" y="289.20" width="11.50" height="51.40" fill="#000" stroke="#000" stroke-width="1.3"/>
<line x1="390.85" y1="289.20" x2="390.85" y2="286.07" stroke="#000" stroke-width="1.3"/>
<line x1="387.45" y1="286.07" x2="394.25" y2="286.07" stroke="#000" stroke-width="1.4"/>
<rect x="419.50" y="286.51" width="11.50" height="54.09" fill="#000" stroke="#000" stroke-width="1.3"/>
<line x1="425.25" y1="286.51" x2="425.25" y2="281.37" stroke="#000" stroke-width="1.3"/>
<line x1="421.85" y1="281.37" x2="428.65" y2="281.37" stroke="#000" stroke-width="1.4"/>
<line x1="334.25" y1="262.82" x2="334.25" y2="255.00" stroke="#000" stroke-width="1.3"/>
<line x1="330.85" y1="255.00" x2="337.65" y2="255.00" stroke="#000" stroke-width="1.4"/>
<rect x="328.50" y="262.82" width="11.50" height="77.78" fill="#fff" stroke="#000" stroke-width="1.45"/>
<line x1="368.25" y1="257.68" x2="368.25" y2="251.20" stroke="#000" stroke-width="1.3"/>
<line x1="364.85" y1="251.20" x2="371.65" y2="251.20" stroke="#000" stroke-width="1.4"/>
<rect x="362.50" y="257.68" width="11.50" height="82.92" fill="#fff" stroke="#000" stroke-width="1.45"/>
<line x1="402.35" y1="263.72" x2="402.35" y2="260.59" stroke="#000" stroke-width="1.3"/>
<line x1="398.95" y1="260.59" x2="405.75" y2="260.59" stroke="#000" stroke-width="1.4"/>
<rect x="396.60" y="263.72" width="11.50" height="76.88" fill="#fff" stroke="#000" stroke-width="1.45"/>
<line x1="436.75" y1="271.09" x2="436.75" y2="265.73" stroke="#000" stroke-width="1.3"/>
<line x1="433.35" y1="265.73" x2="440.15" y2="265.73" stroke="#000" stroke-width="1.4"/>
<rect x="431.00" y="271.09" width="11.50" height="69.51" fill="#fff" stroke="#000" stroke-width="1.45"/>
<line x1="310.80" y1="250.60" x2="310.80" y2="341.20" stroke="#000" stroke-width="1.3"/>
<line x1="308.20" y1="340.60" x2="310.80" y2="340.60" stroke="#000" stroke-width="1.3"/>
<text x="0" y="0" font-size="9.8" text-anchor="end" transform="translate(308.00 344.70) scale(1 1.07)">0</text>
<line x1="308.20" y1="318.25" x2="310.80" y2="318.25" stroke="#000" stroke-width="1.3"/>
<text x="0" y="0" font-size="9.8" text-anchor="end" transform="translate(308.00 322.35) scale(1 1.07)">1</text>
<line x1="308.20" y1="295.90" x2="310.80" y2="295.90" stroke="#000" stroke-width="1.3"/>
<text x="0" y="0" font-size="9.8" text-anchor="end" transform="translate(308.00 300.00) scale(1 1.07)">2</text>
<line x1="308.20" y1="273.55" x2="310.80" y2="273.55" stroke="#000" stroke-width="1.3"/>
<text x="0" y="0" font-size="9.8" text-anchor="end" transform="translate(308.00 277.65) scale(1 1.07)">3</text>
<line x1="308.20" y1="251.20" x2="310.80" y2="251.20" stroke="#000" stroke-width="1.3"/>
<text x="0" y="0" font-size="9.8" text-anchor="end" transform="translate(308.00 255.30) scale(1 1.07)">4</text>
<line x1="310.80" y1="340.60" x2="448.30" y2="340.60" stroke="#000" stroke-width="1.3"/>
<line x1="328.50" y1="340.60" x2="328.50" y2="343.00" stroke="#000" stroke-width="1.2"/>
<line x1="362.50" y1="340.60" x2="362.50" y2="343.00" stroke="#000" stroke-width="1.2"/>
<line x1="396.60" y1="340.60" x2="396.60" y2="343.00" stroke="#000" stroke-width="1.2"/>
<line x1="431.00" y1="340.60" x2="431.00" y2="343.00" stroke="#000" stroke-width="1.2"/>
<text x="0" y="0" font-size="10.0" text-anchor="end" transform="translate(331.50 352.90) rotate(-45) scale(1 1.07)">WT</text>
<text x="0" y="0" font-size="10.0" text-anchor="end" transform="translate(365.50 352.90) rotate(-45) scale(1 1.07)">WT DPI</text>
<text x="0" y="0" font-size="10.0" text-anchor="end" transform="translate(399.60 352.90) rotate(-45) scale(1 1.07)">Cybb-/-</text>
<text x="0" y="0" font-size="10.0" text-anchor="end" transform="translate(434.00 352.90) rotate(-45) scale(1 1.07)">Cybb-/- DPI</text>
<text x="0" y="0" font-size="9.8" text-anchor="middle" transform="translate(284.00 294.50) rotate(-90) scale(1 1.0)">relative cysteine</text>
<text x="0" y="0" font-size="9.8" text-anchor="middle" transform="translate(296.60 294.00) rotate(-90) scale(1 1.0)">cathepsin activity</text>
<text x="0" y="0" font-size="7.2" text-anchor="start" transform="translate(316.60 227.20) scale(1 1.07)">p&lt;0.001</text>
<line x1="316.20" y1="230.30" x2="394.70" y2="230.30" stroke="#000" stroke-width="1.3"/>
<text x="0" y="0" font-size="7.2" text-anchor="start" transform="translate(316.60 241.20) scale(1 1.07)">p&lt;0.001</text>
<line x1="316.20" y1="243.20" x2="337.00" y2="243.20" stroke="#000" stroke-width="1.3"/>
<text x="0" y="0" font-size="7.2" text-anchor="start" transform="translate(352.00 241.20) scale(1 1.07)">p&lt;0.01</text>
<line x1="352.00" y1="243.20" x2="372.50" y2="243.20" stroke="#000" stroke-width="1.3"/>
<text x="0" y="0" font-size="7.2" text-anchor="start" transform="translate(386.60 241.20) scale(1 1.07)">p&lt;0.001</text>
<line x1="385.80" y1="243.20" x2="407.70" y2="243.20" stroke="#000" stroke-width="1.3"/>
<rect x="457.40" y="254.30" width="14.00" height="7.60" fill="#000" stroke="#000" stroke-width="1.2"/>
<rect x="457.40" y="265.30" width="14.00" height="7.60" fill="#fff" stroke="#000" stroke-width="1.2"/>
<text x="0" y="0" font-size="9.5" text-anchor="start" transform="translate(473.80 261.80) scale(1 1.07)">untreated</text>
<text x="0" y="0" font-size="9.5" text-anchor="start" transform="translate(473.80 272.80) scale(1 1.07)">IL-4</text>
<text x="0" y="0" font-size="20.8" text-anchor="start" transform="translate(269.40 412.60) scale(1 1.07)">F</text>
<rect x="319.80" y="490.70" width="11.50" height="59.30" fill="#000" stroke="#000" stroke-width="1.3"/>
<rect x="353.50" y="485.96" width="11.50" height="64.04" fill="#000" stroke="#000" stroke-width="1.3"/>
<line x1="359.25" y1="485.96" x2="359.25" y2="481.21" stroke="#000" stroke-width="1.3"/>
<line x1="355.85" y1="481.21" x2="362.65" y2="481.21" stroke="#000" stroke-width="1.4"/>
<rect x="387.30" y="490.70" width="11.50" height="59.30" fill="#000" stroke="#000" stroke-width="1.3"/>
<line x1="393.05" y1="490.70" x2="393.05" y2="484.18" stroke="#000" stroke-width="1.3"/>
<line x1="389.65" y1="484.18" x2="396.45" y2="484.18" stroke="#000" stroke-width="1.4"/>
<rect x="421.00" y="483.58" width="11.50" height="66.42" fill="#000" stroke="#000" stroke-width="1.3"/>
<line x1="426.75" y1="483.58" x2="426.75" y2="478.84" stroke="#000" stroke-width="1.3"/>
<line x1="423.35" y1="478.84" x2="430.15" y2="478.84" stroke="#000" stroke-width="1.4"/>
<line x1="337.05" y1="469.94" x2="337.05" y2="464.01" stroke="#000" stroke-width="1.3"/>
<line x1="333.65" y1="464.01" x2="340.45" y2="464.01" stroke="#000" stroke-width="1.4"/>
<rect x="331.30" y="469.94" width="11.50" height="80.06" fill="#fff" stroke="#000" stroke-width="1.45"/>
<line x1="370.75" y1="469.35" x2="370.75" y2="464.01" stroke="#000" stroke-width="1.3"/>
<line x1="367.35" y1="464.01" x2="374.15" y2="464.01" stroke="#000" stroke-width="1.4"/>
<rect x="365.00" y="469.35" width="11.50" height="80.65" fill="#fff" stroke="#000" stroke-width="1.45"/>
<line x1="404.55" y1="485.96" x2="404.55" y2="478.84" stroke="#000" stroke-width="1.3"/>
<line x1="401.15" y1="478.84" x2="407.95" y2="478.84" stroke="#000" stroke-width="1.4"/>
<rect x="398.80" y="485.96" width="11.50" height="64.04" fill="#fff" stroke="#000" stroke-width="1.45"/>
<line x1="438.25" y1="477.06" x2="438.25" y2="468.17" stroke="#000" stroke-width="1.3"/>
<line x1="434.85" y1="468.17" x2="441.65" y2="468.17" stroke="#000" stroke-width="1.4"/>
<rect x="432.50" y="477.06" width="11.50" height="72.94" fill="#fff" stroke="#000" stroke-width="1.45"/>
<line x1="314.00" y1="460.45" x2="314.00" y2="550.60" stroke="#000" stroke-width="1.3"/>
<line x1="311.40" y1="550.00" x2="314.00" y2="550.00" stroke="#000" stroke-width="1.3"/>
<text x="0" y="0" font-size="9.8" text-anchor="end" transform="translate(311.20 554.10) scale(1 1.07)">0.0</text>
<line x1="311.40" y1="520.35" x2="314.00" y2="520.35" stroke="#000" stroke-width="1.3"/>
<text x="0" y="0" font-size="9.8" text-anchor="end" transform="translate(311.20 524.45) scale(1 1.07)">0.5</text>
<line x1="311.40" y1="490.70" x2="314.00" y2="490.70" stroke="#000" stroke-width="1.3"/>
<text x="0" y="0" font-size="9.8" text-anchor="end" transform="translate(311.20 494.80) scale(1 1.07)">1.0</text>
<line x1="311.40" y1="461.05" x2="314.00" y2="461.05" stroke="#000" stroke-width="1.3"/>
<text x="0" y="0" font-size="9.8" text-anchor="end" transform="translate(311.20 465.15) scale(1 1.07)">1.5</text>
<line x1="314.00" y1="550.00" x2="449.00" y2="550.00" stroke="#000" stroke-width="1.3"/>
<line x1="331.30" y1="550.00" x2="331.30" y2="552.40" stroke="#000" stroke-width="1.2"/>
<line x1="365.00" y1="550.00" x2="365.00" y2="552.40" stroke="#000" stroke-width="1.2"/>
<line x1="398.80" y1="550.00" x2="398.80" y2="552.40" stroke="#000" stroke-width="1.2"/>
<line x1="432.50" y1="550.00" x2="432.50" y2="552.40" stroke="#000" stroke-width="1.2"/>
<text x="0" y="0" font-size="9.6" text-anchor="end" transform="translate(334.30 561.60) rotate(-45) scale(1 1.07)">WT</text>
<text x="0" y="0" font-size="9.6" text-anchor="end" transform="translate(368.00 561.60) rotate(-45) scale(1 1.07)">WT DPI</text>
<text x="0" y="0" font-size="9.6" text-anchor="end" transform="translate(401.80 561.60) rotate(-45) scale(1 1.07)">Cybb-/-</text>
<text x="0" y="0" font-size="9.6" text-anchor="end" transform="translate(435.50 561.60) rotate(-45) scale(1 1.07)">Cybb-/- DPI</text>
<text x="0" y="0" font-size="9.8" text-anchor="middle" transform="translate(280.70 503.90) rotate(-90) scale(1 1.0)">relative aspartic</text>
<text x="0" y="0" font-size="9.8" text-anchor="middle" transform="translate(292.50 504.40) rotate(-90) scale(1 1.0)" textLength="77.5" lengthAdjust="spacingAndGlyphs">cathepsin activity</text>
<rect x="458.60" y="464.50" width="14.00" height="7.60" fill="#000" stroke="#000" stroke-width="1.2"/>
<rect x="458.60" y="475.10" width="14.00" height="7.60" fill="#fff" stroke="#000" stroke-width="1.2"/>
<text x="0" y="0" font-size="9.5" text-anchor="start" transform="translate(475.00 472.00) scale(1 1.07)">untreated</text>
<text x="0" y="0" font-size="9.5" text-anchor="start" transform="translate(475.00 482.60) scale(1 1.07)">IL-4</text>
</svg></body></html>
